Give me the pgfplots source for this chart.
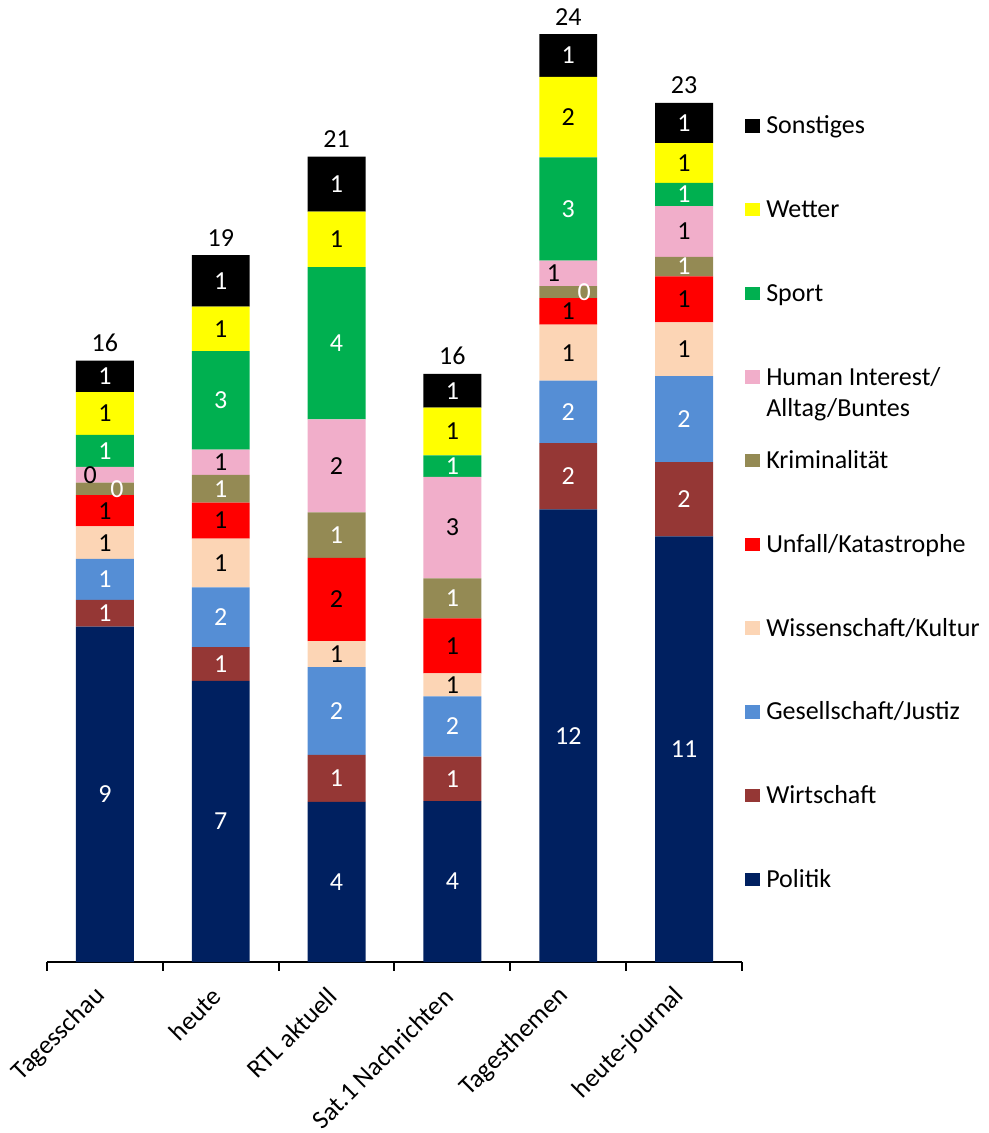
\documentclass[border=0pt]{standalone}
\usepackage{fontspec}
\setmainfont{Carlito}
\usepackage{pgfplots}
\usepackage{pgfplotstable}
\pgfplotsset{compat=1.18}

\definecolor{cPol}{HTML}{002060}
\definecolor{cWirt}{HTML}{953735}
\definecolor{cGes}{HTML}{558ED5}
\definecolor{cWiss}{HTML}{FCD5B5}
\definecolor{cUnf}{HTML}{FF0000}
\definecolor{cKrim}{HTML}{948A54}
\definecolor{cHum}{HTML}{F1AECA}
\definecolor{cSpo}{HTML}{00B050}
\definecolor{cWet}{HTML}{FFFF00}
\definecolor{cSon}{HTML}{000000}

% Sendezeit je Sendung, gestapelt
\pgfplotstableread{
x Pol   Wirt Ges  Wiss Unf  Krim Hum  Spo  Wet  Son  zero tot HumDx KrimDx
0 8.86  0.71 1.08 0.86 0.83 0.33 0.41 0.85 1.13 0.83 0    16  -11   9
1 7.43  0.89 1.58 1.29 0.95 0.73 0.67 2.60 1.18 1.36 0    19  0     0
2 4.23  1.24 2.32 0.69 2.20 1.20 2.46 4.02 1.47 1.45 0    21  0     0
3 4.25  1.18 1.59 0.61 1.45 1.06 2.68 0.57 1.26 0.89 0    16  0     0
4 11.96 1.75 1.65 1.48 0.70 0.32 0.67 2.73 2.13 1.13 0    24  -11   12
5 11.25 1.96 2.27 1.42 1.22 0.51 1.34 0.62 1.05 1.06 0    23  0     0
}\data
% running sums, for the label positions
\pgfplotstablecreatecol[expr={\thisrow{Pol}}]{sPol}{\data}
\pgfplotstablecreatecol[expr={\thisrow{sPol}+\thisrow{Wirt}}]{sWirt}{\data}
\pgfplotstablecreatecol[expr={\thisrow{sWirt}+\thisrow{Ges}}]{sGes}{\data}
\pgfplotstablecreatecol[expr={\thisrow{sGes}+\thisrow{Wiss}}]{sWiss}{\data}
\pgfplotstablecreatecol[expr={\thisrow{sWiss}+\thisrow{Unf}}]{sUnf}{\data}
\pgfplotstablecreatecol[expr={\thisrow{sUnf}+\thisrow{Krim}}]{sKrim}{\data}
\pgfplotstablecreatecol[expr={\thisrow{sKrim}+\thisrow{Hum}}]{sHum}{\data}
\pgfplotstablecreatecol[expr={\thisrow{sHum}+\thisrow{Spo}}]{sSpo}{\data}
\pgfplotstablecreatecol[expr={\thisrow{sSpo}+\thisrow{Wet}}]{sWet}{\data}
\pgfplotstablecreatecol[expr={\thisrow{sWet}+\thisrow{Son}}]{sSon}{\data}

\newcommand{\seg}[2]{\addplot[fill=#2, draw=none] table[x=x, y=#1] {\data};}
% label: column, running sum below it, text colour, xshift column
\newcommand{\lab}[4]{%
  \addplot[draw=none, mark=none, point meta=explicit,
    visualization depends on={\thisrow{#4} \as \dx},
    every node near coord/.append style={text=#3, anchor=center, xshift=\dx pt}]
    table[x=x, y expr={\thisrow{#2}+0.5*\thisrow{#1}}, meta=#1] {\data};}

\pgfplotsset{frame/.style={at={(0,0)}, anchor=south west,
    scale only axis, width=521.25pt, height=721.5pt,
    xmin=-0.5, xmax=5.5, ymin=0, ymax=25.42, clip=false,
    font=\fontsize{19.5}{23.4}\selectfont}}

\begin{document}
\fontsize{19.5}{23.4}\selectfont
\begin{tikzpicture}
\useasboundingbox (-35.25pt,-128.25pt) rectangle (706.5pt,721.5pt);
\begin{axis}[
    frame,
    ybar stacked, bar width=0.5,
    axis y line=none, axis x line*=bottom,
    x axis line style={-, line width=1.5pt},
    xtick={0,...,5},
    xticklabels={Tagesschau, heute, RTL aktuell, Sat.1 Nachrichten, Tagesthemen, heute-journal},
    major x tick style={draw=none},
    minor xtick={-0.5,0.5,...,5.5},
    minor x tick style={black, line width=1.5pt},
    tick align=outside, minor tick length=6.5pt,
    xticklabel style={rotate=45, anchor=east, inner sep=0pt, yshift=-11pt, xshift=-15pt,
      font=\fontsize{19.5}{23.4}\selectfont},
    reverse legend,
    legend style={at={(1.0043,0.8805)}, anchor=north west, draw=none, fill=none,
      inner sep=0pt, row sep=44.78pt, column sep=4.5pt,
      font=\fontsize{19.5}{23.4}\selectfont,
      nodes={inner sep=0pt, text height=14pt, text depth=4pt},
      cells={anchor=base west}},
    legend image code/.code={\fill[#1, draw=none] (0pt,1pt) rectangle (11.25pt,11pt);},
]
\seg{Pol}{cPol}
\seg{Wirt}{cWirt}
\seg{Ges}{cGes}
\seg{Wiss}{cWiss}
\seg{Unf}{cUnf}
\seg{Krim}{cKrim}
\seg{Hum}{cHum}
\seg{Spo}{cSpo}
\seg{Wet}{cWet}
\seg{Son}{cSon}
\legend{Politik, Wirtschaft, Gesellschaft/Justiz, Wissenschaft/Kultur,
  Unfall/Katastrophe, Kriminalität,
  {\begin{tabular}[t]{@{}l@{}}Human Interest/\\Alltag/Buntes\end{tabular}},
  Sport, Wetter, Sonstiges}
\end{axis}
\begin{axis}[
    frame, hide axis,
    /pgf/number format/assume math mode=true,
    nodes near coords={\pgfmathprintnumber[fixed,precision=0]{\pgfplotspointmeta}},
]
\lab{Pol}{zero}{white}{zero}
\lab{Wirt}{sPol}{white}{zero}
\lab{Ges}{sWirt}{white}{zero}
\lab{Wiss}{sGes}{black}{zero}
\lab{Unf}{sWiss}{black}{zero}
\lab{Krim}{sUnf}{white}{KrimDx}
\lab{Hum}{sKrim}{black}{HumDx}
\lab{Spo}{sHum}{white}{zero}
\lab{Wet}{sSpo}{black}{zero}
\lab{Son}{sWet}{white}{zero}
\addplot[draw=none, mark=none, point meta=explicit,
    every node near coord/.append style={anchor=south, text=black}]
    table[x=x, y=sSon, meta=tot] {\data};
\end{axis}
\end{tikzpicture}
\end{document}
